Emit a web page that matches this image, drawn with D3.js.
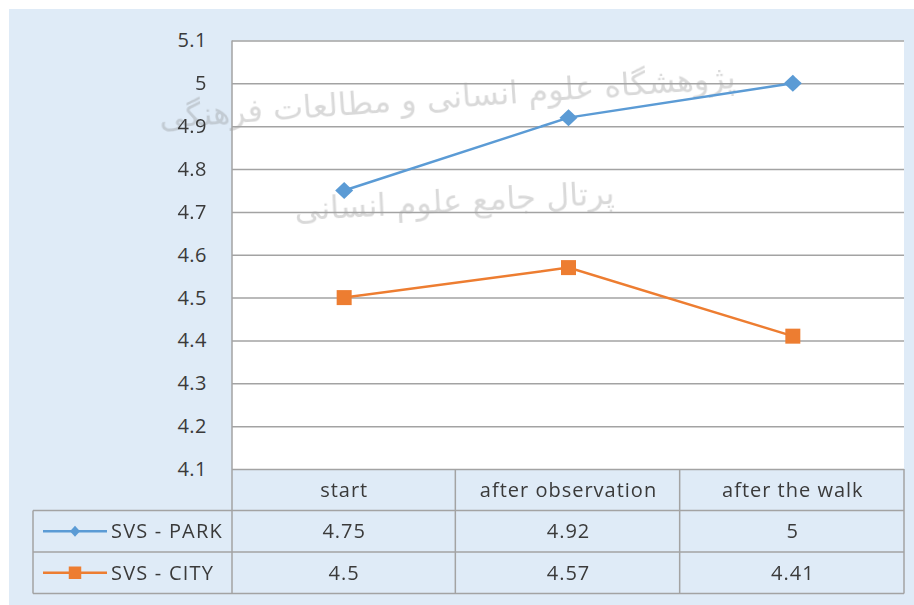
<!DOCTYPE html>
<html>
<head>
<meta charset="utf-8">
<script src="https://cdn.jsdelivr.net/npm/d3@7"></script>
<style>
  html, body { margin: 0; padding: 0; background: #fff; }
  svg { display: block; }
  text { font-family: "Open Sans", "Noto Sans", sans-serif; fill: #3a3a3a; }
</style>
</head>
<body>
<div id="chart"></div>
<script>
const width = 914;
const height = 605;

// data
const categories = ["start", "after observation", "after the walk"];
const seriesNames = ["SVS - PARK", "SVS - CITY"];
const parkValues = [4.75, 4.92, 5];
const cityValues = [4.5, 4.57, 4.41];
const tickValues = [4.1, 4.2, 4.3, 4.4, 4.5, 4.6, 4.7, 4.8, 4.9, 5, 5.1];
const colors = ["#5B9BD5", "#ED7D31"];

// excel-style diamond (wider than d3's)
function diamond(hw, hh) {
    return `M0,${-hh}L${hw},0L0,${hh}L${-hw},0Z`;
}
function square(s) {
    return d3.symbol().type(d3.symbolSquare).size(s * s)();
}

const series = [
    { name: seriesNames[0], values: parkValues, color: colors[0], marker: diamond(9, 8.5), key: diamond(5, 5.5) },
    { name: seriesNames[1], values: cityValues, color: colors[1], marker: square(15), key: square(12.5) }
];

const plotLeft = 232, plotRight = 905, plotTop = 40.5, plotBottom = 469;
const tableLeft = 33;
const rowH = 41.5;
const gridColor = "#a3a3a3";
const fontSize = "20px";

const svg = d3.select("#chart")
    .append("svg")
    .attr("width", width)
    .attr("height", height);

// chart background
svg.append("rect")
    .attr("x", 9).attr("y", 9)
    .attr("width", width - 9).attr("height", height - 9)
    .attr("fill", "#DFEBF7");

const x = d3.scaleBand()
    .domain(categories)
    .range([plotLeft, plotRight]);

const y = d3.scaleLinear()
    .domain([4.1, 5.1])
    .range([plotBottom, plotTop]);

// plot area
svg.append("rect")
    .attr("x", plotLeft).attr("y", plotTop)
    .attr("width", plotRight - plotLeft - 1).attr("height", plotBottom - plotTop)
    .attr("fill", "#fff");

// faint watermark
const wm = svg.append("g")
    .attr("opacity", 0.3);
[["پژوهشگاه علوم انسانی و مطالعات فرهنگی", 448, 108, -4],
 ["پرتال جامع علوم انسانی", 455, 212, -3]].forEach(w => {
    wm.append("text")
        .attr("transform", `translate(${w[1]},${w[2]}) rotate(${w[3]})`)
        .attr("text-anchor", "middle")
        .attr("direction", "rtl")
        .style("font-size", "32px")
        .style("font-family", "DejaVu Sans, sans-serif")
        .style("fill", "#808080")
        .text(w[0]);
});

// gridlines + y labels
const yAxis = svg.append("g")
    .attr("transform", `translate(${plotLeft},0)`)
    .call(d3.axisLeft(y)
        .tickValues(tickValues)
        .tickSize(-(plotRight - plotLeft - 1))
        .tickPadding(25)
        .tickFormat(d3.format("")));
yAxis.select(".domain").remove();
yAxis.selectAll(".tick line")
    .attr("stroke", gridColor)
    .attr("stroke-width", 1.5);
yAxis.selectAll(".tick text")
    .style("font-size", fontSize)
    .style("font-family", "Open Sans, sans-serif")
    .style("letter-spacing", "0.5px")
    .attr("fill", "#3a3a3a");

// data table
const table = svg.append("g")
    .attr("fill", "none")
    .attr("stroke", gridColor)
    .attr("stroke-width", 1.5);

table.append("line")
    .attr("x1", tableLeft).attr("x2", plotRight - 1)
    .attr("y1", plotBottom + rowH).attr("y2", plotBottom + rowH);
series.forEach((s, i) => {
    const yy = plotBottom + rowH * (i + 2);
    table.append("line")
        .attr("x1", tableLeft).attr("x2", plotRight - 1)
        .attr("y1", yy).attr("y2", yy);
});
table.append("line")
    .attr("x1", tableLeft).attr("x2", tableLeft)
    .attr("y1", plotBottom + rowH).attr("y2", plotBottom + rowH * 3);
table.append("line")
    .attr("x1", plotLeft).attr("x2", plotLeft)
    .attr("y1", plotTop).attr("y2", plotBottom + rowH * 3);
categories.forEach(c => {
    const xx = x(c) + x.bandwidth() - 1;
    table.append("line")
        .attr("x1", xx).attr("x2", xx)
        .attr("y1", plotBottom).attr("y2", plotBottom + rowH * 3);
});

// header labels
svg.append("g").selectAll("text")
    .data(categories)
    .join("text")
    .attr("x", d => x(d) + x.bandwidth() / 2)
    .attr("y", plotBottom + rowH / 2)
    .attr("dy", "0.35em")
    .attr("text-anchor", "middle")
    .style("font-size", fontSize)
    .style("letter-spacing", "1px")
    .text(d => d);

// value cells + legend keys
series.forEach((s, i) => {
    const rowY = plotBottom + rowH * (i + 1) + rowH / 2;
    svg.append("g").selectAll("text")
        .data(s.values)
        .join("text")
        .attr("x", (d, j) => x(categories[j]) + x.bandwidth() / 2)
        .attr("y", rowY)
        .attr("dy", "0.35em")
        .attr("text-anchor", "middle")
        .style("font-size", fontSize)
        .style("letter-spacing", "1px")
        .text(d => d);

    const key = svg.append("g");
    key.append("line")
        .attr("x1", 43).attr("x2", 107)
        .attr("y1", rowY).attr("y2", rowY)
        .attr("stroke", s.color)
        .attr("stroke-width", 2.5);
    key.append("path")
        .attr("transform", `translate(75,${rowY})`)
        .attr("d", s.key)
        .attr("fill", s.color);
    key.append("text")
        .attr("x", 111)
        .attr("y", rowY)
        .attr("dy", "0.35em")
        .style("font-size", fontSize)
        .style("letter-spacing", "1.2px")
        .text(s.name);
});

// lines and markers
const line = d3.line()
    .x((d, j) => x(categories[j]) + x.bandwidth() / 2)
    .y(d => y(d));

series.forEach(s => {
    svg.append("path")
        .datum(s.values)
        .attr("d", line)
        .attr("fill", "none")
        .attr("stroke", s.color)
        .attr("stroke-width", 2.5);

    svg.append("g").selectAll("path")
        .data(s.values)
        .join("path")
        .attr("transform", (d, j) => `translate(${x(categories[j]) + x.bandwidth() / 2},${y(d)})`)
        .attr("d", s.marker)
        .attr("fill", s.color);
});
</script>
</body>
</html>
